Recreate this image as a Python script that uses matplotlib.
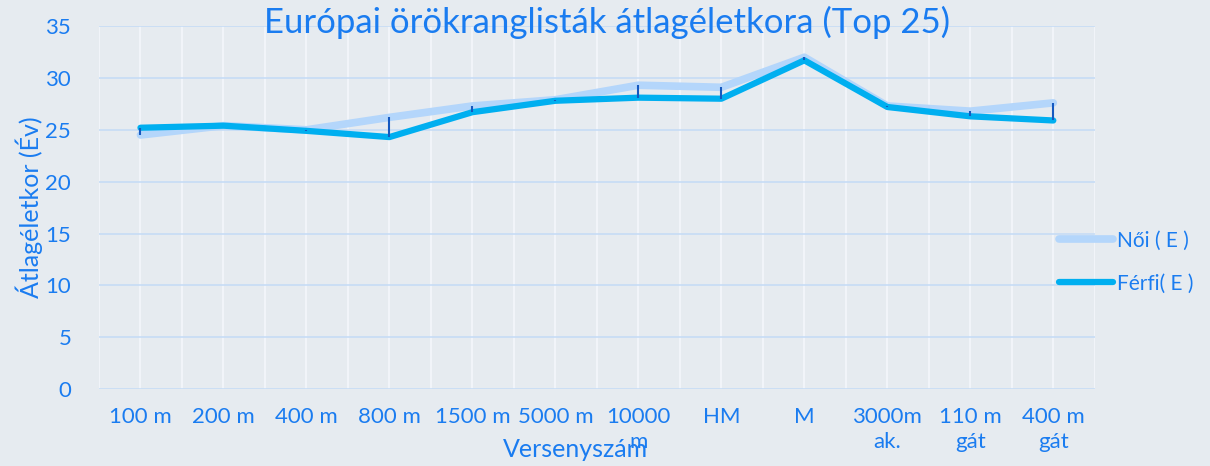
import numpy as np
import matplotlib.pyplot as plt

plt.rcParams['font.family'] = ['Lato', 'DejaVu Sans']

categories = ["100 m", "200 m", "400 m", "800 m", "1500 m", "5000 m", "10000\nm",
              "HM", "M", "3000m\nak.", "110 m\ngát", "400 m\ngát"]
noi = [24.5, 25.4, 25.0, 26.2, 27.3, 27.9, 29.3, 29.1, 32.0, 27.3, 26.8, 27.6]
ferfi = [25.2, 25.4, 24.9, 24.3, 26.7, 27.8, 28.1, 28.0, 31.7, 27.2, 26.3, 25.9]

txt = "#1a7cf0"
bg = "#e6ebf0"

fig = plt.figure(figsize=(12.1, 4.66), dpi=100, facecolor=bg)
ax = fig.add_axes([0.0818, 0.165, 0.823, 0.779])
ax.set_facecolor(bg)

x = np.arange(len(categories))
ax.set_xlim(-0.5, len(categories) - 0.5)
ax.set_ylim(0, 35)

# grid: light vertical lines at centres and boundaries, blue horizontal
for gx in np.arange(-0.5, len(categories), 0.5):
    ax.axvline(gx, color="#f4f7fb", lw=1.2, zorder=0)
for gy in range(0, 36, 5):
    ax.axhline(gy, color="#c6dcf6", lw=1.2, zorder=0)

ax.plot(x, noi, color="#b4d6fb", lw=5.5, solid_capstyle="round", label="Női ( E )", zorder=2)
ax.plot(x, ferfi, color="#00aff0", lw=4.5, solid_capstyle="round", label="Férfi( E )", zorder=3)
ax.vlines(x, np.minimum(noi, ferfi), np.maximum(noi, ferfi), color="#1559c0", lw=1.5, zorder=4)

ax.set_xticks(x)
ax.set_xticklabels(categories, color=txt, fontsize=16, va="top", linespacing=1.3)
ax.set_yticks(range(0, 36, 5))
ax.tick_params(axis="y", colors=txt, labelsize=16, length=0, pad=20)
ax.tick_params(axis="x", length=0, pad=13)
for s in ax.spines.values():
    s.set_visible(False)

ax.set_ylabel("Átlagéletkor (Év)", color=txt, fontsize=18, labelpad=2)
ax.set_xlabel("Versenyszám", color=txt, fontsize=18)
ax.xaxis.set_label_coords(0.478, -0.135)

fig.text(0.502, 0.952, "Európai örökranglisták átlagéletkora (Top 25)", color=txt,
         fontsize=25, ha="center", va="center")

ax.legend(loc="center left", bbox_to_anchor=(0.945, 0.35), frameon=False,
          fontsize=15, labelcolor=txt, handlelength=2.6, handletextpad=0.2,
          labelspacing=1.1)

fig.savefig("out.png", dpi=100, facecolor=bg)
